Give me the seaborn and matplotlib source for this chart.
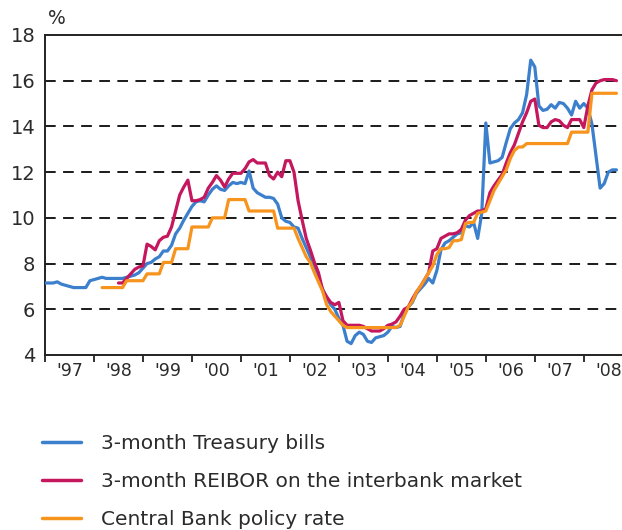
import numpy as np
import pandas as pd
import seaborn as sns
import matplotlib.pyplot as plt
from matplotlib.lines import Line2D

# monthly values, Jan 1997 - Sep 2008 (%)
tbills = [
    7.15, 7.15, 7.15, 7.2, 7.1, 7.05, 7.0, 6.95, 6.95, 6.95, 6.95, 7.25,          # 1997
    7.3, 7.35, 7.4, 7.35, 7.35, 7.35, 7.35, 7.35, 7.4, 7.45, 7.5, 7.6,            # 1998
    7.8, 8.0, 8.05, 8.2, 8.3, 8.55, 8.55, 8.8, 9.3, 9.55, 9.9, 10.2,              # 1999
    10.5, 10.7, 10.75, 10.7, 11.0, 11.25, 11.4, 11.25, 11.2, 11.4, 11.55, 11.5,   # 2000
    11.55, 11.5, 12.05, 11.3, 11.1, 11.0, 10.9, 10.9, 10.85, 10.6, 10.0, 9.85,    # 2001
    9.8, 9.6, 9.55, 9.1, 8.7, 8.3, 7.8, 7.3, 6.9, 6.5, 6.2, 6.0,                  # 2002
    5.6, 5.3, 4.6, 4.5, 4.85, 5.0, 4.9, 4.6, 4.55, 4.75, 4.8, 4.85,               # 2003
    5.0, 5.25, 5.2, 5.25, 5.8, 6.1, 6.3, 6.7, 6.9, 7.1, 7.35, 7.15,               # 2004
    7.7, 8.6, 8.9, 9.0, 9.15, 9.3, 9.35, 9.65, 9.6, 9.8, 9.1, 10.2,               # 2005
    14.15, 12.4, 12.45, 12.5, 12.65, 13.3, 13.9, 14.15, 14.3, 14.6, 15.4, 16.9,   # 2006
    16.6, 14.9, 14.7, 14.75, 14.95, 14.8, 15.05, 15.0, 14.8, 14.5, 15.1, 14.8,    # 2007
    15.0, 14.8, 14.1, 12.7, 11.3, 11.5, 12.0, 12.1, 12.1,                         # 2008
]

reibor = [np.nan] * 18 + [
    7.15, 7.15, 7.35, 7.55, 7.75, 7.85,                                           # 1998 H2
    7.9, 8.85, 8.75, 8.6, 9.0, 9.15, 9.2, 9.6, 10.3, 11.0, 11.35, 11.65,          # 1999
    10.75, 10.75, 10.8, 10.9, 11.3, 11.55, 11.85, 11.65, 11.35, 11.7, 11.95, 11.95,  # 2000
    11.95, 12.15, 12.45, 12.55, 12.4, 12.4, 12.4, 11.85, 11.7, 12.0, 11.8, 12.5,  # 2001
    12.5, 12.0, 10.75, 9.9, 9.1, 8.6, 8.05, 7.6, 6.85, 6.55, 6.3, 6.2,            # 2002
    6.3, 5.5, 5.3, 5.3, 5.3, 5.3, 5.25, 5.15, 5.05, 5.05, 5.05, 5.15,             # 2003
    5.3, 5.35, 5.45, 5.7, 6.0, 6.1, 6.45, 6.75, 7.0, 7.3, 7.6, 8.55,              # 2004
    8.65, 9.1, 9.2, 9.3, 9.3, 9.35, 9.5, 9.9, 10.1, 10.2, 10.3, 10.3,             # 2005
    10.4, 11.1, 11.4, 11.65, 11.9, 12.4, 12.85, 13.2, 13.7, 14.2, 14.6, 15.1,     # 2006
    15.2, 14.05, 13.95, 13.95, 14.2, 14.3, 14.25, 14.05, 13.95, 14.3, 14.3, 14.3, # 2007
    13.95, 14.9, 15.6, 15.9, 16.0, 16.05, 16.05, 16.05, 16.0,                     # 2008
]

policy = [np.nan] * 14 + [
    6.95, 6.95, 6.95, 6.95, 6.95, 6.95, 7.25, 7.25, 7.25, 7.25,                   # 1998
    7.25, 7.55, 7.55, 7.55, 7.55, 8.05, 8.05, 8.05, 8.65, 8.65, 8.65, 8.65,       # 1999
    9.6, 9.6, 9.6, 9.6, 9.6, 10.0, 10.0, 10.0, 10.0, 10.8, 10.8, 10.8,            # 2000
    10.8, 10.8, 10.3, 10.3, 10.3, 10.3, 10.3, 10.3, 10.3, 9.55, 9.55, 9.55,       # 2001
    9.55, 9.55, 9.1, 8.7, 8.3, 8.05, 7.6, 7.2, 6.8, 6.2, 5.9, 5.7,                # 2002
    5.5, 5.3, 5.2, 5.2, 5.2, 5.2, 5.2, 5.2, 5.2, 5.2, 5.2, 5.2,                   # 2003
    5.2, 5.2, 5.2, 5.3, 5.7, 6.1, 6.35, 6.75, 7.0, 7.3, 7.6, 7.9,                 # 2004
    8.4, 8.65, 8.65, 8.7, 9.0, 9.0, 9.05, 9.75, 9.8, 9.8, 10.2, 10.25,            # 2005
    10.3, 10.75, 11.2, 11.5, 11.8, 12.1, 12.6, 12.95, 13.1, 13.1, 13.25, 13.25,   # 2006
    13.25, 13.25, 13.25, 13.25, 13.25, 13.25, 13.25, 13.25, 13.25, 13.75, 13.75, 13.75,  # 2007
    13.75, 13.75, 15.45, 15.45, 15.45, 15.45, 15.45, 15.45, 15.45,                # 2008
]

series_names = ["3-month Treasury bills",
                "3-month REIBOR on the interbank market",
                "Central Bank policy rate"]
series_colors = ["#3b7fcd", "#c4175e", "#f7941d"]
year_labels = ["'97", "'98", "'99", "'00", "'01", "'02", "'03",
               "'04", "'05", "'06", "'07", "'08"]

n = len(tbills)
assert len(reibor) == n and len(policy) == n
t = 1997 + np.arange(n) / 12.0
df = pd.DataFrame({"t": t, series_names[0]: tbills,
                   series_names[1]: reibor, series_names[2]: policy})

sns.set_style("ticks")
plt.rcParams["font.family"] = ["DejaVu Sans"]
txt = "#2b2b2b"

fig = plt.figure(figsize=(6.22, 5.30), dpi=100)
ax = fig.add_axes([45 / 622, 1 - 355 / 530, 577 / 622, 320 / 530])

# draw order: REIBOR, T-bills, policy rate on top
for i in [1, 0, 2]:
    sns.lineplot(data=df, x="t", y=series_names[i], color=series_colors[i],
                 linewidth=2.3, ax=ax, legend=False, zorder=3 + i)

ax.set_xlim(1997, 2008.78)
ax.set_ylim(4, 18)
ax.set_yticks(range(4, 19, 2))
ax.set_xlabel("")
ax.set_ylabel("")

for y in range(6, 18, 2):
    ax.axhline(y, color="#1a1a1a", linewidth=1.4, linestyle=(0, (5.5, 3.8)), zorder=1)

ax.set_xticks(np.arange(1997, 2009))
ax.set_xticklabels([])
ax.set_xticks(np.arange(1997.5, 2009), minor=True)
ax.set_xticklabels(year_labels, minor=True)
ax.tick_params(axis="x", which="major", length=5, width=1.3, direction="out", color="#222")
ax.tick_params(axis="x", which="minor", length=0, pad=5, labelsize=12.5, labelcolor=txt)
ax.tick_params(axis="y", length=0, pad=7, labelsize=14, labelcolor=txt)

for side in ["left", "bottom", "top"]:
    ax.spines[side].set_linewidth(1.4)
    ax.spines[side].set_color("#222")
ax.spines["right"].set_visible(False)

fig.text(57 / 622, 1 - 18 / 530, "%", fontsize=13.5, color=txt, ha="center", va="center")

handles = [Line2D([], [], color=c, linewidth=2.5) for c in series_colors]
fig.legend(handles, series_names, loc="upper left", bbox_to_anchor=(42 / 622, 1 - 434 / 530),
           frameon=False, fontsize=14.5, borderpad=0, borderaxespad=0,
           handlelength=1.95, handletextpad=1.0, labelspacing=0.95, labelcolor=txt)

fig.savefig("out.png", dpi=100)
